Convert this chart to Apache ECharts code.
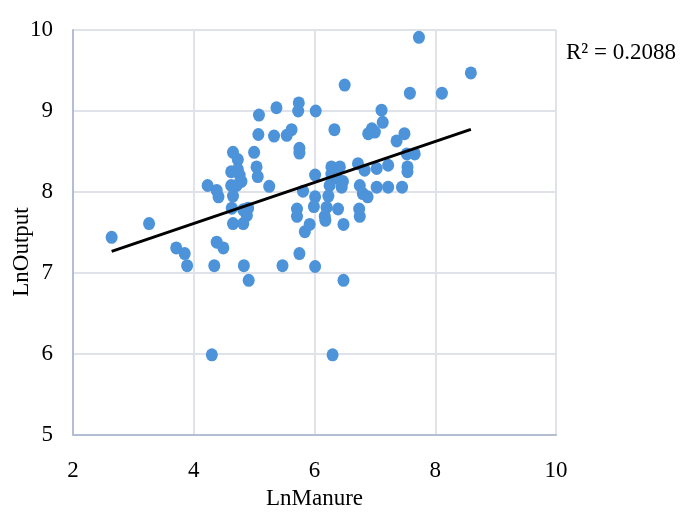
<!DOCTYPE html>
<html>
<head>
<meta charset="utf-8">
<script src="https://cdn.jsdelivr.net/npm/echarts@6/dist/echarts.min.js"></script>
<style>
  html, body { margin: 0; padding: 0; background: #fff; }
  #chart { width: 697px; height: 514px; }
</style>
</head>
<body>
<div id="chart"></div>
<script>
// LnManure (x) and LnOutput (y)
const lnManure = [
  2.64, 3.26, 3.71, 3.85, 3.89, 4.23, 4.38, 4.41, 4.38, 4.49,
  4.34, 4.30, 4.65, 4.73, 4.62, 4.73, 4.76, 4.79, 4.62, 4.71,
  4.65, 4.63, 4.82, 4.90, 4.88, 4.65, 4.82, 4.83, 4.91, 5.00,
  5.04, 5.06, 5.08, 5.07, 5.25, 5.37, 5.33, 5.54, 5.62, 5.47,
  5.74, 5.73, 5.75, 5.75, 5.81, 5.71, 5.71, 5.84, 5.92, 5.75,
  6.02, 6.01, 6.01, 5.99, 6.01, 6.18, 6.23, 6.20, 6.17, 6.39,
  6.48, 6.48, 6.30, 6.50, 6.33, 6.28, 6.42, 6.28, 6.37, 6.47,
  6.25, 6.45, 6.72, 6.83, 6.75, 6.80, 6.88, 6.74, 6.75, 7.03,
  7.22, 7.03, 7.22, 7.45, 7.54, 7.54, 7.53, 7.66, 7.36, 7.49,
  6.89, 6.95, 7.00, 7.11, 7.13, 7.58, 7.73, 8.11, 8.59
];
const lnOutput = [
  7.44, 7.61, 7.31, 7.24, 7.09, 8.08, 8.02, 7.94, 7.38, 7.31,
  7.09, 5.99, 8.49, 8.40, 8.25, 8.28, 8.21, 8.13, 8.08, 8.08,
  7.95, 7.80, 7.78, 7.80, 7.71, 7.61, 7.61, 7.09, 6.91, 8.49,
  8.31, 8.19, 8.95, 8.71, 8.07, 9.04, 8.69, 8.70, 8.77, 7.09,
  9.10, 9.00, 8.54, 8.48, 8.01, 7.79, 7.70, 7.51, 7.60, 7.24,
  9.00, 8.21, 7.94, 7.82, 7.08, 7.65, 7.95, 7.81, 7.70, 7.79,
  7.60, 6.91, 5.99, 9.32, 8.77, 8.31, 8.31, 8.22, 8.17, 8.13,
  8.08, 8.06, 8.35, 8.27, 8.08, 7.98, 7.94, 7.79, 7.70, 8.29,
  8.33, 8.06, 8.06, 8.06, 8.31, 8.25, 8.47, 8.47, 8.63, 8.72,
  8.72, 8.78, 8.74, 9.01, 8.86, 9.22, 9.91, 9.22, 9.47
];

// linear trendline as drawn: y = slope * x + intercept
const trendSlope = 0.253;
const trendIntercept = 6.60;
const rSquared = '0.2088';

const points = lnManure.map((x, i) => [x, lnOutput[i]]);
const xMin = Math.min(...lnManure);
const xMax = Math.max(...lnManure);
const trend = [xMin, xMax].map(x => [x, trendSlope * x + trendIntercept]);

const font = '"Liberation Serif", "Times New Roman", serif';

let chart = echarts.init(document.getElementById('chart'), null, { renderer: 'canvas' });
let option = {
  animation: false,
  backgroundColor: '#fff',
  grid: {
    left: 73, right: 141, top: 30, bottom: 79,
    containLabel: false,
    outerBoundsMode: 'none'
  },
  xAxis: {
    type: 'value',
    min: 2,
    max: 10,
    interval: 2,
    name: 'LnManure',
    nameLocation: 'middle',
    nameGap: 52,
    nameTextStyle: { fontFamily: font, fontSize: 23, color: '#000' },
    axisLine: { show: true, lineStyle: { color: '#b4bed2', width: 2 } },
    axisTick: { show: false },
    axisLabel: { fontFamily: font, fontSize: 23, color: '#000', margin: 24 },
    splitLine: { show: true, lineStyle: { color: '#dfe2e8', width: 2 } }
  },
  yAxis: {
    type: 'value',
    min: 5,
    max: 10,
    interval: 1,
    axisLine: { show: true, lineStyle: { color: '#b4bed2', width: 2 } },
    axisTick: { show: false },
    axisLabel: { fontFamily: font, fontSize: 23, color: '#000', margin: 20 },
    splitLine: { show: true, lineStyle: { color: '#dfe2e8', width: 2 } }
  },
  graphic: [
    {
      // y axis title, placed a bit below the plot middle as in the original
      type: 'text',
      x: 22,
      y: 252,
      rotation: Math.PI / 2,
      style: {
        text: 'LnOutput',
        font: '23px ' + font,
        fill: '#000',
        align: 'center',
        verticalAlign: 'middle'
      }
    },
    {
      type: 'text',
      left: 566,
      top: 41,
      style: {
        text: 'R² = ' + rSquared,
        font: '23px ' + font,
        fill: '#000'
      }
    }
  ],
  series: [
    {
      name: 'LnOutput',
      type: 'scatter',
      symbol: 'circle',
      symbolSize: [12, 13],
      itemStyle: { color: '#4d93d9', opacity: 1 },
      data: points,
      z: 2
    },
    {
      name: 'Linear',
      type: 'line',
      symbol: 'none',
      lineStyle: { color: '#000', width: 3 },
      data: trend,
      z: 3
    }
  ]
};
chart.setOption(option);
</script>
</body>
</html>
